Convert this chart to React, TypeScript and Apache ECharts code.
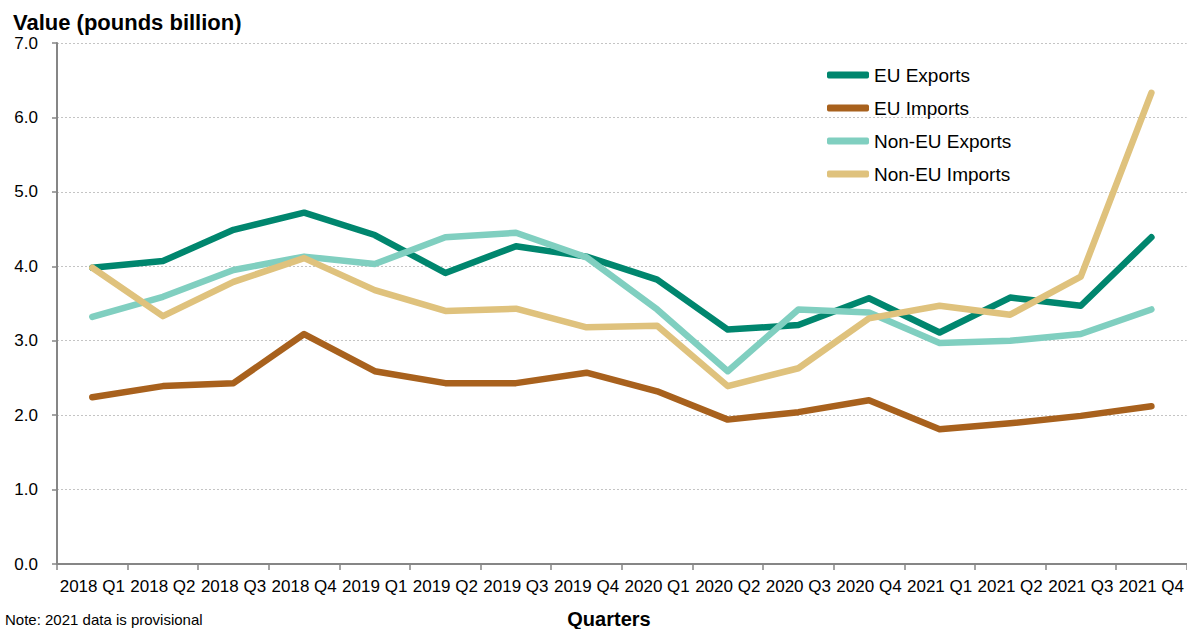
import React, { useEffect, useRef } from "react";
import * as echarts from "echarts";

const quarters = [
  "2018 Q1", "2018 Q2", "2018 Q3", "2018 Q4",
  "2019 Q1", "2019 Q2", "2019 Q3", "2019 Q4",
  "2020 Q1", "2020 Q2", "2020 Q3", "2020 Q4",
  "2021 Q1", "2021 Q2", "2021 Q3", "2021 Q4",
];
const euExports = [3.98, 4.07, 4.49, 4.72, 4.42, 3.91, 4.27, 4.13, 3.82, 3.15, 3.21, 3.57, 3.11, 3.58, 3.47, 4.39];
const euImports = [2.24, 2.39, 2.43, 3.09, 2.59, 2.43, 2.43, 2.57, 2.32, 1.94, 2.04, 2.2, 1.81, 1.89, 1.99, 2.12];
const nonEuExports = [3.32, 3.59, 3.95, 4.13, 4.03, 4.39, 4.45, 4.12, 3.42, 2.59, 3.42, 3.38, 2.97, 3.0, 3.09, 3.42];
const nonEuImports = [3.98, 3.33, 3.79, 4.11, 3.68, 3.4, 3.43, 3.18, 3.2, 2.39, 2.63, 3.3, 3.47, 3.35, 3.86, 6.33];
const seriesNames = ["EU Exports", "EU Imports", "Non-EU Exports", "Non-EU Imports"];
const seriesColors = ["#00866E", "#A8611D", "#80CFC0", "#DFC27D"];
const yTicks = { min: 0, max: 7, interval: 1 };

const FONT = "'Liberation Sans', Arial, sans-serif";

export default function App() {
  const ref = useRef<HTMLDivElement>(null);
  useEffect(() => {
    if (!ref.current) return;
    const chart = echarts.init(ref.current, null, { renderer: "svg" });
    const data = [euExports, euImports, nonEuExports, nonEuImports];
    chart.setOption({
      animation: false,
      textStyle: { fontFamily: FONT },
      grid: { left: 57, right: 0, top: 43, bottom: 65, containLabel: false },
      legend: {
        orient: "vertical",
        left: 827,
        top: 64,
        padding: 0,
        itemWidth: 42,
        itemHeight: 7,
        itemGap: 11,
        icon: "roundRect",
        textStyle: { fontSize: 19, color: "#000", fontFamily: FONT, lineHeight: 22 },
        data: seriesNames,
      },
      xAxis: {
        type: "category",
        data: quarters,
        boundaryGap: true,
        axisLine: { lineStyle: { color: "#868686", width: 2 } },
        axisTick: { show: true, length: 6, lineStyle: { color: "#868686", width: 1.5 } },
        axisLabel: { interval: 0, fontSize: 17, color: "#000", margin: 14, fontFamily: FONT },
        splitLine: { show: false },
      },
      yAxis: {
        type: "value",
        min: yTicks.min,
        max: yTicks.max,
        interval: yTicks.interval,
        axisLine: { show: true, lineStyle: { color: "#868686", width: 2 } },
        axisTick: { show: true, length: 5, lineStyle: { color: "#868686", width: 1.5 } },
        axisLabel: { fontSize: 17, color: "#000", margin: 19, fontFamily: FONT, formatter: (v: number) => v.toFixed(1) },
        splitLine: { show: true, lineStyle: { color: "#c4c4c4", width: 1, type: [2, 2] } },
      },
      series: seriesNames.map((name, i) => ({
        name,
        type: "line",
        data: data[i],
        showSymbol: false,
        symbol: "none",
        color: seriesColors[i],
        lineStyle: { color: seriesColors[i], width: 6.5, cap: "round", join: "round" },
        z: 2 + i,
      })),
      graphic: [
        {
          type: "text",
          x: 13,
          y: 22,
          style: { text: "Value (pounds billion)", fill: "#000", font: `bold 22px ${FONT}`, textAlign: "left", textVerticalAlign: "middle" },
        },
        {
          type: "text",
          x: 609,
          y: 619,
          style: { text: "Quarters", fill: "#000", font: `bold 20px ${FONT}`, textAlign: "center", textVerticalAlign: "middle" },
        },
        {
          type: "text",
          x: 5,
          y: 619,
          style: { text: "Note: 2021 data is provisional", fill: "#000", font: `15px ${FONT}`, textAlign: "left", textVerticalAlign: "middle" },
        },
      ],
    });
    return () => chart.dispose();
  }, []);
  return <div ref={ref} style={{ position: "fixed", left: 0, top: 0, width: 1187, height: 629, background: "#fff" }} />;
}
